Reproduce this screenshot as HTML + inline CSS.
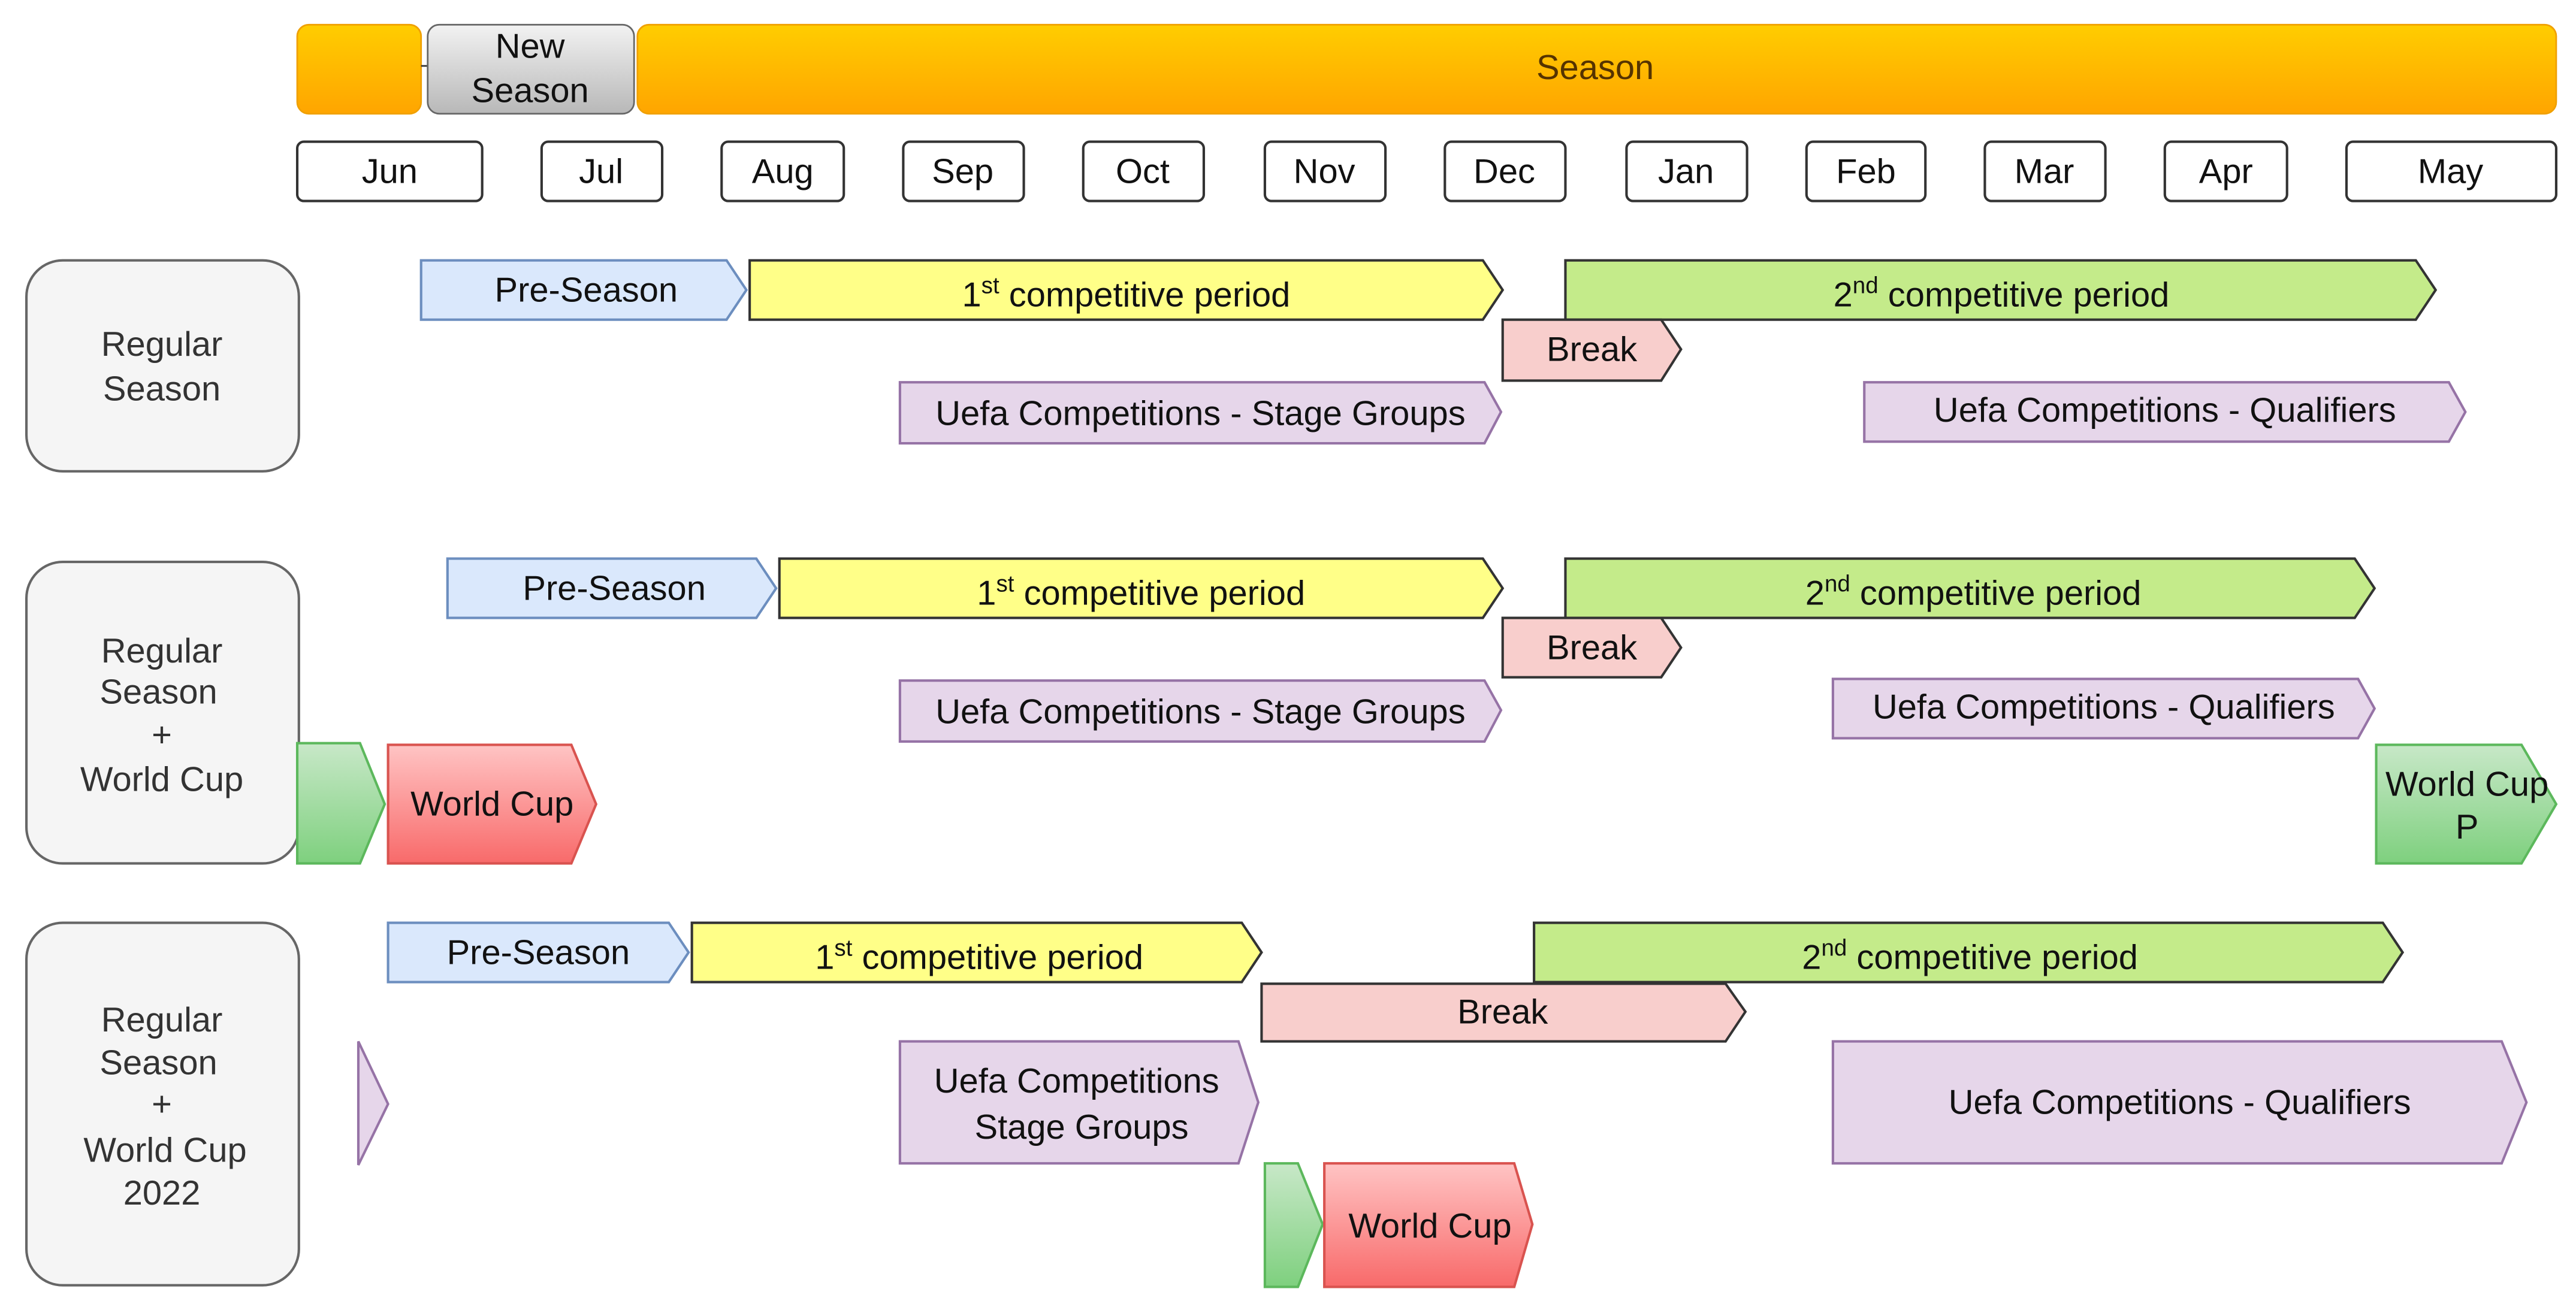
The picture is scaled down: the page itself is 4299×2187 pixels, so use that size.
<!DOCTYPE html>
<html><head><meta charset="utf-8"><style>html,body{margin:0;padding:0;background:#fff}svg{display:block}text{font-family:"Liberation Sans",sans-serif;font-size:21px;fill:#111}</style></head>
<body>
<svg width="4299" height="2187" viewBox="0 0 1560 795" preserveAspectRatio="none" xmlns="http://www.w3.org/2000/svg">
<defs>
<linearGradient id="or" x1="0" y1="0" x2="0" y2="1"><stop offset="0" stop-color="#ffcd00"/><stop offset="1" stop-color="#ffa500"/></linearGradient>
<linearGradient id="gr" x1="0" y1="0" x2="0" y2="1"><stop offset="0" stop-color="#f2f2f2"/><stop offset="1" stop-color="#b8b8b8"/></linearGradient>
<linearGradient id="rd" x1="0" y1="0" x2="0" y2="1"><stop offset="0" stop-color="#ffc4c4"/><stop offset="1" stop-color="#f86a6a"/></linearGradient>
<linearGradient id="gn" x1="0" y1="0" x2="0" y2="1"><stop offset="0" stop-color="#c8e8c8"/><stop offset="1" stop-color="#7ed07e"/></linearGradient>
</defs>
<!-- top bar -->
<rect x="180" y="15" width="75" height="54" rx="7" fill="url(#or)" stroke="#f0a000"/>
<line x1="255" y1="40" x2="259" y2="40" stroke="#333"/>
<rect x="259" y="15" width="125" height="54" rx="7" fill="url(#gr)" stroke="#666"/>
<text x="321" y="35" text-anchor="middle">New</text><text x="321" y="62" text-anchor="middle">Season</text>
<rect x="386" y="15" width="1162" height="54" rx="7" fill="url(#or)" stroke="#f0a000"/>
<text x="966" y="48" text-anchor="middle" style="fill:#553300">Season</text>
<!-- months -->
<g fill="#fff" stroke="#333" stroke-width="1.5">
<rect x="180" y="86" width="112" height="36" rx="4"/><rect x="328" y="86" width="73" height="36" rx="4"/>
<rect x="437" y="86" width="74" height="36" rx="4"/><rect x="547" y="86" width="73" height="36" rx="4"/>
<rect x="656" y="86" width="73" height="36" rx="4"/><rect x="766" y="86" width="73" height="36" rx="4"/>
<rect x="875" y="86" width="73" height="36" rx="4"/><rect x="985" y="86" width="73" height="36" rx="4"/>
<rect x="1094" y="86" width="72" height="36" rx="4"/><rect x="1202" y="86" width="73" height="36" rx="4"/>
<rect x="1311" y="86" width="74" height="36" rx="4"/><rect x="1421" y="86" width="127" height="36" rx="4"/>
</g>
<g text-anchor="middle">
<text x="236" y="111">Jun</text><text x="364" y="111">Jul</text><text x="474" y="111">Aug</text><text x="583" y="111">Sep</text>
<text x="692" y="111">Oct</text><text x="802" y="111">Nov</text><text x="911" y="111">Dec</text><text x="1021" y="111">Jan</text>
<text x="1130" y="111">Feb</text><text x="1238" y="111">Mar</text><text x="1348" y="111">Apr</text><text x="1484" y="111">May</text>
</g>
<!-- row labels -->
<g fill="#f5f5f5" stroke="#666" stroke-width="1.5">
<rect x="16" y="158" width="165" height="128" rx="22"/>
<rect x="16" y="341" width="165" height="183" rx="22"/>
<rect x="16" y="560" width="165" height="220" rx="22"/>
</g>
<g text-anchor="middle" style="fill:#333">
<text x="98" y="216" style="fill:#333">Regular</text><text x="98" y="243" style="fill:#333">Season</text>
<text x="98" y="402" style="fill:#333">Regular</text><text x="96" y="427" style="fill:#333">Season</text><text x="98" y="453" style="fill:#333">+</text><text x="98" y="480" style="fill:#333">World Cup</text>
<text x="98" y="626" style="fill:#333">Regular</text><text x="96" y="652" style="fill:#333">Season</text><text x="98" y="677" style="fill:#333">+</text><text x="100" y="705" style="fill:#333">World Cup</text><text x="98" y="731" style="fill:#333">2022</text>
</g>
<!-- Row 1 -->
<path d="M255 158H440L452 176L440 194H255Z" fill="#dae8fc" stroke="#6c8ebf" stroke-width="1.5"/>
<path d="M454 158H898L910 176L898 194H454Z" fill="#ffff88" stroke="#333" stroke-width="1.5"/>
<path d="M948 158H1463L1475 176L1463 194H948Z" fill="#c4eb8a" stroke="#333" stroke-width="1.5"/>
<path d="M910 194H1006L1018 212L1006 231H910Z" fill="#f8cecc" stroke="#333" stroke-width="1.5"/>
<path d="M545 232H899L909 250L899 269H545Z" fill="#e6d6ea" stroke="#9673a6" stroke-width="1.5"/>
<path d="M1129 232H1483L1493 250L1483 268H1129Z" fill="#e6d6ea" stroke="#9673a6" stroke-width="1.5"/>
<text x="355" y="183" text-anchor="middle">Pre-Season</text>
<text x="682" y="186" text-anchor="middle">1<tspan dy="-8" font-size="14">st</tspan><tspan dy="8"> competitive period</tspan></text>
<text x="1212" y="186" text-anchor="middle">2<tspan dy="-8" font-size="14">nd</tspan><tspan dy="8"> competitive period</tspan></text>
<text x="964" y="219" text-anchor="middle">Break</text>
<text x="727" y="258" text-anchor="middle">Uefa Competitions - Stage Groups</text>
<text x="1311" y="256" text-anchor="middle">Uefa Competitions - Qualifiers</text>
<!-- Row 2 -->
<path d="M271 339H458L470 357L458 375H271Z" fill="#dae8fc" stroke="#6c8ebf" stroke-width="1.5"/>
<path d="M472 339H898L910 357L898 375H472Z" fill="#ffff88" stroke="#333" stroke-width="1.5"/>
<path d="M948 339H1426L1438 357L1426 375H948Z" fill="#c4eb8a" stroke="#333" stroke-width="1.5"/>
<path d="M910 375H1006L1018 393L1006 411H910Z" fill="#f8cecc" stroke="#333" stroke-width="1.5"/>
<path d="M545 413H899L909 431L899 450H545Z" fill="#e6d6ea" stroke="#9673a6" stroke-width="1.5"/>
<path d="M1110 412H1428L1438 430L1428 448H1110Z" fill="#e6d6ea" stroke="#9673a6" stroke-width="1.5"/>
<path d="M180 451H218L233 488L218 524H180Z" fill="url(#gn)" stroke="#5cb85c" stroke-width="1.5"/>
<path d="M235 452H346L361 488L346 524H235Z" fill="url(#rd)" stroke="#d9534f" stroke-width="1.5"/>
<path d="M1439 452H1527L1548 488L1527 524H1439Z" fill="url(#gn)" stroke="#5cb85c" stroke-width="1.5"/>
<text x="372" y="364" text-anchor="middle">Pre-Season</text>
<text x="691" y="367" text-anchor="middle">1<tspan dy="-8" font-size="14">st</tspan><tspan dy="8"> competitive period</tspan></text>
<text x="1195" y="367" text-anchor="middle">2<tspan dy="-8" font-size="14">nd</tspan><tspan dy="8"> competitive period</tspan></text>
<text x="964" y="400" text-anchor="middle">Break</text>
<text x="727" y="439" text-anchor="middle">Uefa Competitions - Stage Groups</text>
<text x="1274" y="436" text-anchor="middle">Uefa Competitions - Qualifiers</text>
<text x="298" y="495" text-anchor="middle">World Cup</text>
<text x="1494" y="483" text-anchor="middle">World Cup</text><text x="1494" y="509" text-anchor="middle">P</text>
<!-- Row 3 -->
<path d="M235 560H405L417 578L405 596H235Z" fill="#dae8fc" stroke="#6c8ebf" stroke-width="1.5"/>
<path d="M419 560H752L764 578L752 596H419Z" fill="#ffff88" stroke="#333" stroke-width="1.5"/>
<path d="M929 560H1443L1455 578L1443 596H929Z" fill="#c4eb8a" stroke="#333" stroke-width="1.5"/>
<path d="M764 597H1045L1057 614L1045 632H764Z" fill="#f8cecc" stroke="#333" stroke-width="1.5"/>
<path d="M545 632H750L762 669L750 706H545Z" fill="#e6d6ea" stroke="#9673a6" stroke-width="1.5"/>
<path d="M1110 632H1515L1530 669L1515 706H1110Z" fill="#e6d6ea" stroke="#9673a6" stroke-width="1.5"/>
<path d="M217 632L235 670L217 707Z" fill="#e6d6ea" stroke="#9673a6" stroke-width="1.5"/>
<path d="M766 706H786L801 743L786 781H766Z" fill="url(#gn)" stroke="#5cb85c" stroke-width="1.5"/>
<path d="M802 706H917L928 743L917 781H802Z" fill="url(#rd)" stroke="#d9534f" stroke-width="1.5"/>
<text x="326" y="585" text-anchor="middle">Pre-Season</text>
<text x="593" y="588" text-anchor="middle">1<tspan dy="-8" font-size="14">st</tspan><tspan dy="8"> competitive period</tspan></text>
<text x="1193" y="588" text-anchor="middle">2<tspan dy="-8" font-size="14">nd</tspan><tspan dy="8"> competitive period</tspan></text>
<text x="910" y="621" text-anchor="middle">Break</text>
<text x="652" y="663" text-anchor="middle">Uefa Competitions</text><text x="655" y="691" text-anchor="middle">Stage Groups</text>
<text x="1320" y="676" text-anchor="middle">Uefa Competitions - Qualifiers</text>
<text x="866" y="751" text-anchor="middle">World Cup</text>
</svg>
</body></html>
